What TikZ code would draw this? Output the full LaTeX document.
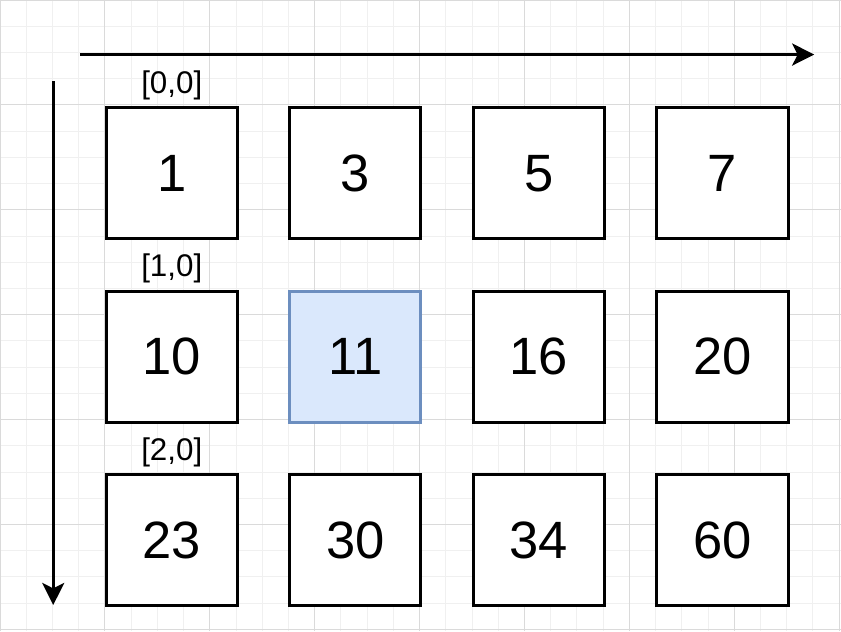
\documentclass[tikz,border=0pt]{standalone}
\usepackage{fontspec}
\setmainfont{Liberation Sans}
\usetikzlibrary{arrows.meta, positioning}
\definecolor{gridminor}{HTML}{F0F0F0}
\definecolor{gridmajor}{HTML}{DADADA}
\definecolor{hitfill}{HTML}{DAE8FC}
\definecolor{hitline}{HTML}{6C8EBF}

\begin{document}
\begin{tikzpicture}[x=0.5cm, y=-0.5cm]
\tikzstyle{cell}=[draw=black, line width=1.6pt, fill=white, minimum size=2.5cm, inner sep=0pt, text depth=-2pt, font=\fontsize{28.5}{32}\selectfont]
\tikzstyle{hit}=[cell, draw=hitline, fill=hitfill]
\tikzstyle{idx}=[inner sep=0pt, font=\fontsize{17}{20}\selectfont]
\tikzstyle{axis}=[line width=1.4pt, -{Stealth[length=12pt, width=12pt, inset=3pt]}]
\useasboundingbox (0,0) rectangle (32.07,24.07);
\draw [gridminor, line width=0.5pt, step=0.5cm] (0,0) grid (32.07,24.07);
\draw [gridmajor, line width=0.5pt, step=2cm] (0,0) grid (32.07,24.07);
% row 0
\node [cell] (c00) at (6.55,6.6) {1};
\node [cell] (c01) at (13.55,6.6) {3};
\node [cell] (c02) at (20.55,6.6) {5};
\node [cell] (c03) at (27.55,6.6) {7};
% row 1
\node [cell] (c10) at (6.55,13.6) {10};
\node [hit] (c11) at (13.55,13.6) {11};
\node [cell] (c12) at (20.55,13.6) {16};
\node [cell] (c13) at (27.55,13.6) {20};
% row 2
\node [cell] (c20) at (6.55,20.6) {23};
\node [cell] (c21) at (13.55,20.6) {30};
\node [cell] (c22) at (20.55,20.6) {34};
\node [cell] (c23) at (27.55,20.6) {60};
% indices
\node [idx] (i00) at ([yshift=0.4cm]c00.north) {[0,0]};
\node [idx] (i10) at ([yshift=0.4cm]c10.north) {[1,0]};
\node [idx] (i20) at ([yshift=0.4cm]c20.north) {[2,0]};
% axes
\coordinate (xs) at (3.05,2.08);
\coordinate (xe) at (31.05,2.08);
\coordinate (ys) at (2.03,3.1);
\coordinate (ye) at (2.03,23.07);
\draw [axis] (xs) -- (xe);
\draw [axis] (ys) -- (ye);
\end{tikzpicture}
\end{document}
